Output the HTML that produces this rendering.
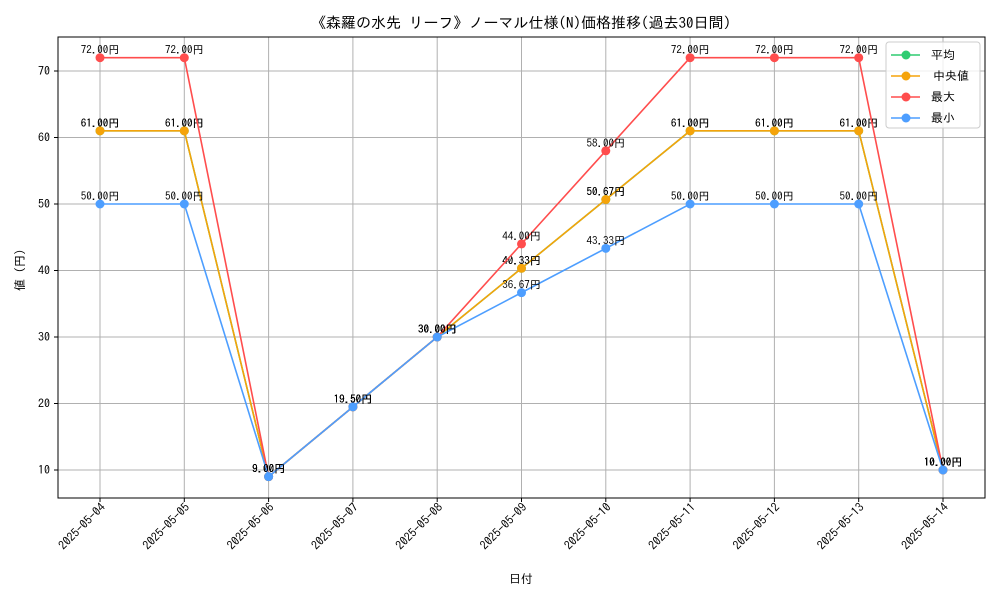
<!DOCTYPE html>
<html><head><meta charset="utf-8">
<style>
body{margin:0;background:#fff;}
svg text{font-family:"IPAGothic","Noto Sans CJK JP",sans-serif;}
</style></head>
<body>
<svg id="chart" width="1000" height="600" xmlns="http://www.w3.org/2000/svg">
<rect width="1000" height="600" fill="#fff"/>
<text x="521" y="28" font-size="15" text-anchor="middle">《森羅の水先 リーフ》ノーマル仕様(N)価格推移(過去30日間)</text>
<g id="grid"></g>
<g id="series"></g>
<rect x="58" y="37" width="927" height="461" fill="none" stroke="#000" stroke-width="1"/>
<text transform="translate(24,267) rotate(-90)" font-size="12" text-anchor="middle">値（円）</text>
<text x="521" y="583" font-size="12" text-anchor="middle">日付</text>
<g>
<rect x="886" y="42" width="94" height="86" rx="3" fill="#fff" fill-opacity="0.8" stroke="#ccc"/>
<g id="legend"></g>
</g>
</svg>
<script>
const categories=["2025-05-04","2025-05-05","2025-05-06","2025-05-07","2025-05-08","2025-05-09","2025-05-10","2025-05-11","2025-05-12","2025-05-13","2025-05-14"];
const meanVals=[61,61,9,19.5,30,40.33,50.67,61,61,61,10];
const medianVals=[61,61,9,19.5,30,40.33,50.67,61,61,61,10];
const maxVals=[72,72,9,19.5,30,44,58,72,72,72,10];
const minVals=[50,50,9,19.5,30,36.67,43.33,50,50,50,10];
const yTicks=[10,20,30,40,50,60,70];
const seriesNames=["平均","中央値","最大","最小"];
const seriesColors=["#2ecc71","#f5a30a","#ff4d4d","#4d9eff"];
const NS="http://www.w3.org/2000/svg";
function xs(i){return 100+i*(943-100)/(categories.length-1);}
function ys(v){return 470-(v-10)*(470-71)/60;}
function mk(tag,attrs,parent){const e=document.createElementNS(NS,tag);for(const k in attrs)e.setAttribute(k,attrs[k]);parent.appendChild(e);return e;}
const grid=document.getElementById('grid');
yTicks.forEach(t=>{
  const y=ys(t);
  const l=mk('line',{x1:58,x2:985,y1:y,y2:y,stroke:'#b0b0b0','stroke-width':1},grid);
  
  mk('line',{x1:54,x2:58,y1:y,y2:y,stroke:'#000'},grid);
  const tx=mk('text',{x:50,y:y+4,'font-size':12,'text-anchor':'end'},grid);tx.textContent=t;
  
});
categories.forEach((c,i)=>{
  const x=xs(i);
  const l=mk('line',{x1:x,x2:x,y1:37,y2:498,stroke:'#b0b0b0','stroke-width':1},grid);
  
  mk('line',{x1:x,x2:x,y1:498,y2:502,stroke:'#000'},grid);
  const tx=mk('text',{transform:`translate(${x+6},508) rotate(-45)`,'font-size':12,'text-anchor':'end'},grid);tx.textContent=c;
  
});
const sg=document.getElementById('series');
const allVals=[meanVals,medianVals,maxVals,minVals];
allVals.forEach((vals,s)=>{
  const g=mk('g',{},sg);
  
  
  mk('polyline',{points:vals.map((v,i)=>xs(i)+','+ys(v)).join(' '),fill:'none',stroke:seriesColors[s],'stroke-width':1.6},g);
  vals.forEach((v,i)=>{
    const c=mk('circle',{cx:xs(i),cy:ys(v),r:4.5,fill:seriesColors[s]},g);
    
    const t=mk('text',{x:xs(i),y:ys(v)-4,'font-size':11,'text-anchor':'middle'},g);
    t.textContent=v.toFixed(2)+'円';
    
  });
});
const lg=document.getElementById('legend');
seriesNames.forEach((n,s)=>{
  const y=55+s*21;
  const e=mk('g',{},lg);
  
  mk('line',{x1:891,x2:920,y1:y,y2:y,stroke:seriesColors[s],'stroke-width':1.6},e);
  mk('circle',{cx:906,cy:y,r:4.5,fill:seriesColors[s]},e);
  const t=mk('text',{x:s==1?933:931,y:y+4,'font-size':12},e);t.textContent=n;
});
</script>
</body></html>
